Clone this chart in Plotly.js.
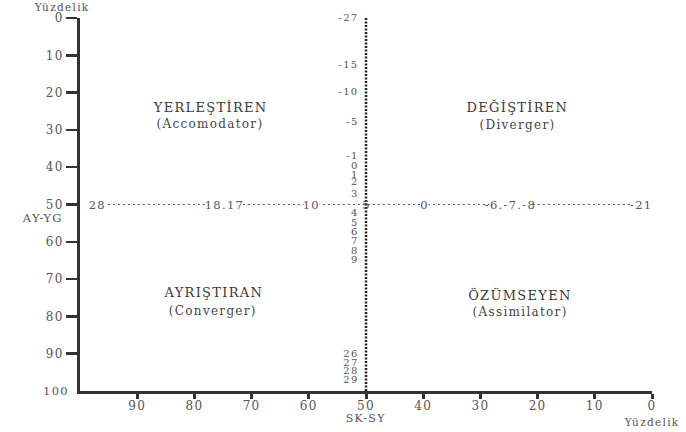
<!DOCTYPE html>
<html>
<head>
<meta charset="utf-8">
<script src="https://cdn.plot.ly/plotly-3.0.1.min.js"></script>
<style>
  html, body { margin: 0; padding: 0; background: #fff; }
  #chart { width: 686px; height: 432px; }
  #chart svg text { letter-spacing: 1.3px; }
</style>
</head>
<body>
<div id="chart"></div>
<script>
// Percentile axes
const xTickVals = [90, 80, 70, 60, 50, 40, 30, 20, 10, 0];
const yTickVals = [0, 10, 20, 30, 40, 50, 60, 70, 80, 90];

// Raw scores along the horizontal (50th percentile) line
const hLabels = ["28", "18.17", "10", "5", "0", "-6.-7.-8", "-21"];
const hPos = [96.9, 74.7, 59.6, 50, 39.7, 24.8, 1.9];

// Raw scores along the vertical (50th percentile) line
const vLabels = ["-27", "-15", "-10", "-5", "-1", "0", "1", "2", "3", "4", "5", "6", "7", "8", "9", "26", "27", "28", "29"];
const vPos = [0, 12.6, 20.1, 27.9, 37, 39.7, 42.1, 44.2, 47.2, 52.5, 55, 57.6, 60, 62.5, 65.1, 90.1, 92.5, 94.9, 97.3];

// Quadrant names
const quadNames = ["YERLEŞTİREN", "DEĞİŞTİREN", "AYRIŞTIRAN", "ÖZÜMSEYEN"];
const quadSub = ["(Accomodator)", "(Diverger)", "(Converger)", "(Assimilator)"];
const quadX = [77.3, 23.6, 76.7, 23.1];
const quadY = [23.9, 23.9, 73.7, 74.3];
const quadSubY = [28.4, 28.6, 78.6, 78.8];

const FONT = "DejaVu Serif, Liberation Serif, serif";
const TXT = "#555";

const traces = [
  {
    x: vPos.map(() => 51.3), y: vPos, text: vLabels,
    mode: "text", textposition: "middle left",
    textfont: { family: FONT, size: 10, color: TXT },
    hoverinfo: "skip", showlegend: false, cliponaxis: false
  }
];

const annotations = [];
hLabels.forEach((t, i) => annotations.push({
  x: hPos[i], y: 50, xref: "x", yref: "y", text: t, showarrow: false,
  font: { family: FONT, size: 11.5, color: TXT }, bgcolor: i === 3 ? "rgba(0,0,0,0)" : "#fff",
  borderpad: 0
}));
quadNames.forEach((t, i) => {
  annotations.push({ x: quadX[i], y: quadY[i], xref: "x", yref: "y", text: t, showarrow: false,
    font: { family: FONT, size: 13, color: "#3a3a3a" } });
  annotations.push({ x: quadX[i], y: quadSubY[i], xref: "x", yref: "y", text: quadSub[i], showarrow: false,
    font: { family: FONT, size: 12, color: "#444" } });
});
const paperLbl = (text, x, y, xanchor, size) => ({
  x: x, y: y, xref: "paper", yref: "paper", text: text, showarrow: false,
  xanchor: xanchor || "center", yanchor: "middle",
  font: { family: FONT, size: size || 11.5, color: TXT }
});
annotations.push(
  paperLbl("Yüzdelik", -0.031, 1.03, "center", 10.5),
  paperLbl("AY-YG", -0.065, 0.464),
  paperLbl("SK-SY", 0.5, -0.074, "center", 11),
  paperLbl("Yüzdelik", 1.0, -0.082, "center", 10.5),
  paperLbl("100", -0.019, 0, "right")
);

const shapes = [
  { type: "line", xref: "x", yref: "y", x0: 96, x1: 2, y0: 50, y1: 50,
    line: { color: "#555", width: 1, dash: "2px,3px" }, layer: "below" },
  { type: "line", xref: "x", yref: "y", x0: 50, x1: 50, y0: 0, y1: 100,
    line: { color: "#222", width: 2.5, dash: "2px,1.5px" } }
];

const layout = {
  width: 686, height: 432,
  margin: { l: 80, r: 34, t: 18, b: 41 },
  paper_bgcolor: "#fff", plot_bgcolor: "#fff",
  showlegend: false,
  xaxis: {
    range: [100, 0], tickvals: xTickVals, ticktext: xTickVals.map(String),
    showgrid: false, zeroline: false, showline: true, linecolor: "#333", linewidth: 3,
    ticks: "outside", ticklen: 5, tickwidth: 3, tickcolor: "#333", ticklabelstandoff: -3,
    tickfont: { family: FONT, size: 12, color: TXT }, fixedrange: true
  },
  yaxis: {
    range: [100, 0], tickvals: yTickVals, ticktext: yTickVals.map(String),
    showgrid: false, zeroline: false, showline: true, linecolor: "#333", linewidth: 3,
    ticks: "outside", ticklen: 11, tickwidth: 2.5, tickcolor: "#333",
    tickfont: { family: FONT, size: 12, color: TXT }, fixedrange: true
  },
  annotations: annotations,
  shapes: shapes
};

Plotly.newPlot("chart", traces, layout, { displayModeBar: false, staticPlot: true });
</script>
</body>
</html>
